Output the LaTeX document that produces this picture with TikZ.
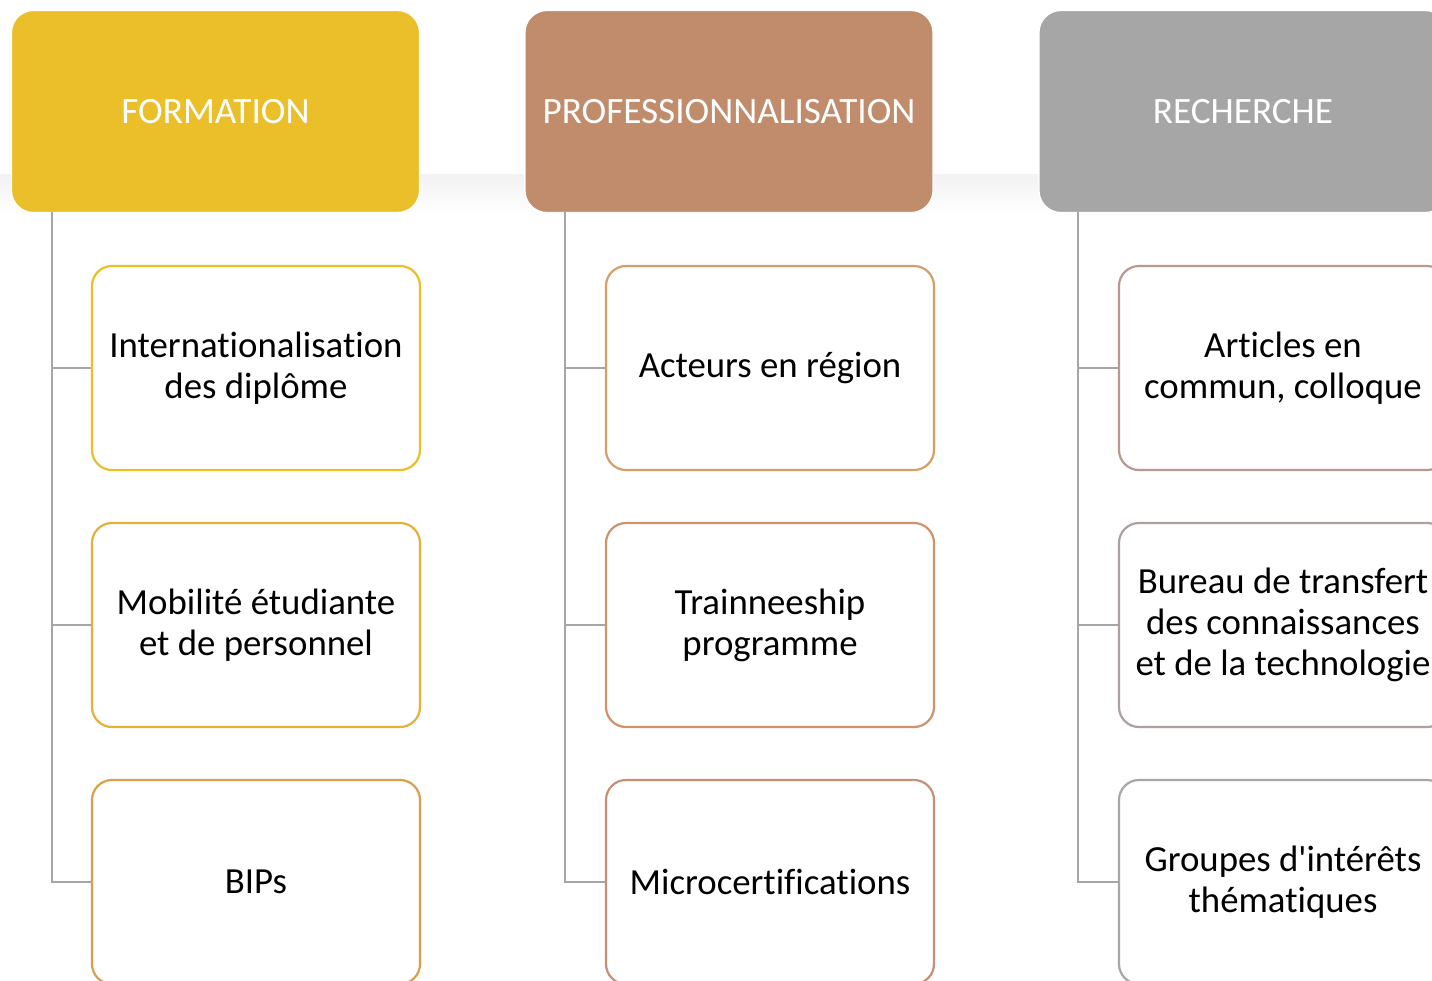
\documentclass[tikz,border=0pt]{standalone}
\usepackage{fontspec}
\newfontfamily\cfont{Carlito}[Ligatures=NoCommon]
\usetikzlibrary{positioning}
\definecolor{hYel}{HTML}{EBBF2A}
\definecolor{hBrn}{HTML}{C18C6C}
\definecolor{hGry}{HTML}{A6A6A6}
\definecolor{bA1}{HTML}{EBBF2A}
\definecolor{bA2}{HTML}{E5B03A}
\definecolor{bA3}{HTML}{DC9E4A}
\definecolor{bB1}{HTML}{D89E68}
\definecolor{bB2}{HTML}{CF926C}
\definecolor{bB3}{HTML}{C69078}
\definecolor{bC1}{HTML}{BB9792}
\definecolor{bC2}{HTML}{ADA09E}
\definecolor{bC3}{HTML}{A8A6A6}
\definecolor{lineG}{HTML}{A6A6A6}
\tikzset{
  hdr/.style={rounded corners=11pt, draw=white, line width=0.6pt, minimum width=204pt, minimum height=101pt,
    inner sep=0pt, font=\cfont\fontsize{18.6}{22}\selectfont, text=white, align=center},
  child/.style={rounded corners=10pt, draw=#1, line width=1.1pt, fill=white, minimum width=164pt, minimum height=102pt,
    inner sep=0pt, font=\cfont\fontsize{18.4}{20.5}\selectfont, text=black, align=center},
  conn/.style={draw=lineG, line width=1.1pt}
}
\begin{document}
\begin{tikzpicture}[x=0.5pt,y=-0.5pt]
\useasboundingbox (0,0) rectangle (1432,981);
\clip (0,0) rectangle (1432,981);
\fill[white] (0,0) rectangle (1432,981);
% faint band behind headers
\shade[top color=black!5, bottom color=white] (0,174) rectangle (1432,216);
% headers
\node[hdr, fill=hYel] (h1) at (215.5,111.5) {FORMATION};
\node[hdr, fill=hBrn] (h2) at (729,111.5) {PROFESSIONNALISATION};
\node[hdr, fill=hGry] (h3) at (1243,111.5) {RECHERCHE};
% children
\node[child=bA1] (a1) at (256,368) {Internationalisation\\des diplôme};
\node[child=bA2] (a2) at (256,625) {Mobilité étudiante\\et de personnel};
\node[child=bA3] (a3) at (256,882) {BIPs};
\node[child=bB1] (b1) at (770,368) {Acteurs en région};
\node[child=bB2] (b2) at (770,625) {Trainneeship\\programme};
\node[child=bB3] (b3) at (770,882) {Microcertifications};
\node[child=bC1] (c1) at (1283,368) {Articles en\\commun, colloque};
\node[child=bC2] (c2) at (1283,625) {Bureau de transfert\\des connaissances\\et de la technologie};
\node[child=bC3] (c3) at (1283,882) {Groupes d'intérêts\\thématiques};
% connectors
\foreach \h/\x/\k in {h1/52/a, h2/565/b, h3/1078/c}{
  \coordinate (\h t) at (\x,212);
  \draw[conn] (\h t) |- (\k3.west);
  \draw[conn] (\h t) |- (\k1.west);
  \draw[conn] (\h t) |- (\k2.west);
}
\end{tikzpicture}
\end{document}
